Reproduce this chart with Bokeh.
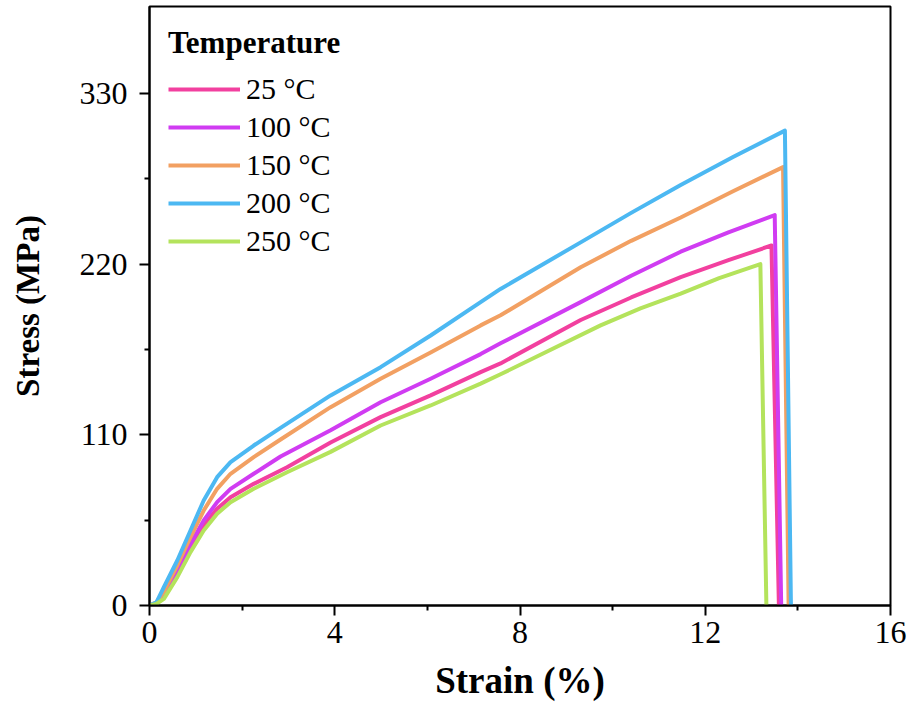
from bokeh.plotting import figure
from bokeh.models import Range1d, FixedTicker, Legend, LegendItem
from bokeh.embed import file_html
from bokeh.resources import INLINE

# ---- data ----
labels = ["25 °C", "100 °C", "150 °C", "200 °C", "250 °C"]
colors = ["#F2409F", "#D03CF2", "#F2A062", "#4CB8F2", "#B4E35C"]

strain_25 = [0, 0.15, 0.31, 0.60, 0.885, 1.17, 1.46, 1.75, 2.25, 2.97, 3.91, 4.99, 6.07, 7.15,
             7.58, 9.31, 10.4, 11.47, 12.5, 13.43, 13.59]
stress_25 = [0, 1, 7, 21.5, 37.6, 51.6, 62.3, 69.8, 78.4, 89.1, 105, 121.4, 135.4, 150.4,
             156, 184, 198.5, 211.6, 222.5, 232, 0]

strain_100 = [0, 0.15, 0.31, 0.60, 0.885, 1.17, 1.46, 1.75, 2.25, 2.83, 3.91, 4.99, 6.07, 7.15,
              7.58, 9.31, 10.4, 11.47, 12.5, 13.50, 13.64]
stress_100 = [0, 1, 8, 23.6, 39.7, 54.8, 66.6, 75.2, 84.9, 96, 113, 131, 146.1, 162,
              169, 195.5, 212.5, 228, 240.5, 251.6, 0]

strain_150 = [0, 0.15, 0.31, 0.60, 0.885, 1.17, 1.46, 1.75, 2.25, 2.83, 3.91, 4.99, 6.07, 7.15,
              7.58, 9.31, 10.4, 11.47, 12.6, 13.68, 13.80]
stress_150 = [0, 2, 9, 25.8, 44, 61.2, 75.2, 84.9, 95.6, 107, 127.8, 146.1, 163, 180.5,
              187, 218, 235, 250, 267, 282.5, 0]

strain_200 = [0, 0.15, 0.31, 0.60, 0.885, 1.17, 1.46, 1.75, 2.25, 2.83, 3.91, 4.99, 6.07, 7.15,
              7.58, 9.31, 10.4, 11.47, 12.6, 13.72, 13.85]
stress_200 = [0, 2, 11.8, 29, 48.3, 67.7, 82.7, 92.4, 103.1, 114.5, 135.4, 153.6, 174, 195.5,
              204, 234, 253, 271, 289, 306, 0]

strain_250 = [0, 0.15, 0.31, 0.60, 0.885, 1.17, 1.46, 1.75, 2.25, 2.97, 3.91, 4.99, 6.07, 7.15,
              7.58, 9.74, 10.6, 11.47, 12.3, 13.19, 13.32]
stress_250 = [0, 1, 4.3, 18.3, 34.4, 48.3, 59.1, 66.6, 75.2, 85.9, 99, 116, 128.9, 143,
              149, 180.5, 191.5, 201, 211, 220, 0]

x_ticks = [0, 4, 8, 12, 16]
x_minor = [2, 6, 10, 14]
y_ticks = [0, 110, 220, 330]
y_minor = [55, 165, 275]

series = [
    (strain_25, stress_25),
    (strain_100, stress_100),
    (strain_150, stress_150),
    (strain_200, stress_200),
    (strain_250, stress_250),
]

FONT = "Liberation Serif, Times New Roman, serif"

p = figure(width=913, height=709, output_backend="svg", toolbar_location=None,
           x_range=Range1d(0, 16), y_range=Range1d(0, 386),
           min_border_left=149, min_border_right=23, min_border_top=6, min_border_bottom=104)
p.background_fill_color = "white"
p.border_fill_color = "white"
p.grid.visible = False
p.outline_line_color = "black"
p.outline_line_width = 2

renderers = []
for (sx, sy), c in zip(series, colors):
    r = p.line(sx, sy, line_color=c, line_width=4, line_join="round")
    renderers.append(r)

for ax in (p.xaxis[0], p.yaxis[0]):
    ax.axis_line_width = 2
    ax.major_tick_line_width = 2
    ax.minor_tick_line_width = 2
    ax.major_tick_out = 10
    ax.major_tick_in = 0
    ax.minor_tick_out = 5
    ax.minor_tick_in = 0
    ax.major_label_text_font = FONT
    ax.major_label_text_font_size = "32px"
    ax.major_label_text_color = "black"
    ax.axis_label_text_font = FONT
    ax.axis_label_text_font_style = "bold"
    ax.axis_label_text_color = "black"

p.xaxis[0].axis_label_text_font_size = "37px"
p.yaxis[0].axis_label_text_font_size = "33px"
p.xaxis[0].ticker = FixedTicker(ticks=x_ticks, minor_ticks=x_minor)
p.yaxis[0].ticker = FixedTicker(ticks=y_ticks, minor_ticks=y_minor)
p.xaxis[0].axis_label = "Strain (%)"
p.yaxis[0].axis_label = "Stress (MPa)"
p.xaxis[0].major_label_standoff = 6
p.xaxis[0].axis_label_standoff = 14
p.yaxis[0].major_label_standoff = 12
p.yaxis[0].axis_label_standoff = 31

items = [LegendItem(label=l, renderers=[r]) for l, r in zip(labels, renderers)]
legend = Legend(items=items, location="top_left", title="Temperature")
legend.title_text_font = FONT
legend.title_text_font_size = "31px"
legend.title_text_font_style = "bold"
legend.title_text_color = "black"
legend.title_standoff = 11
legend.label_text_font = FONT
legend.label_text_font_size = "30px"
legend.label_text_color = "black"
legend.glyph_width = 72
legend.glyph_height = 30
legend.label_height = 34
legend.spacing = 4
legend.label_standoff = 6
legend.margin = 19
legend.padding = 0
legend.border_line_color = None
legend.background_fill_alpha = 0
p.add_layout(legend)

open("out.html", "w").write(file_html(p, INLINE))
